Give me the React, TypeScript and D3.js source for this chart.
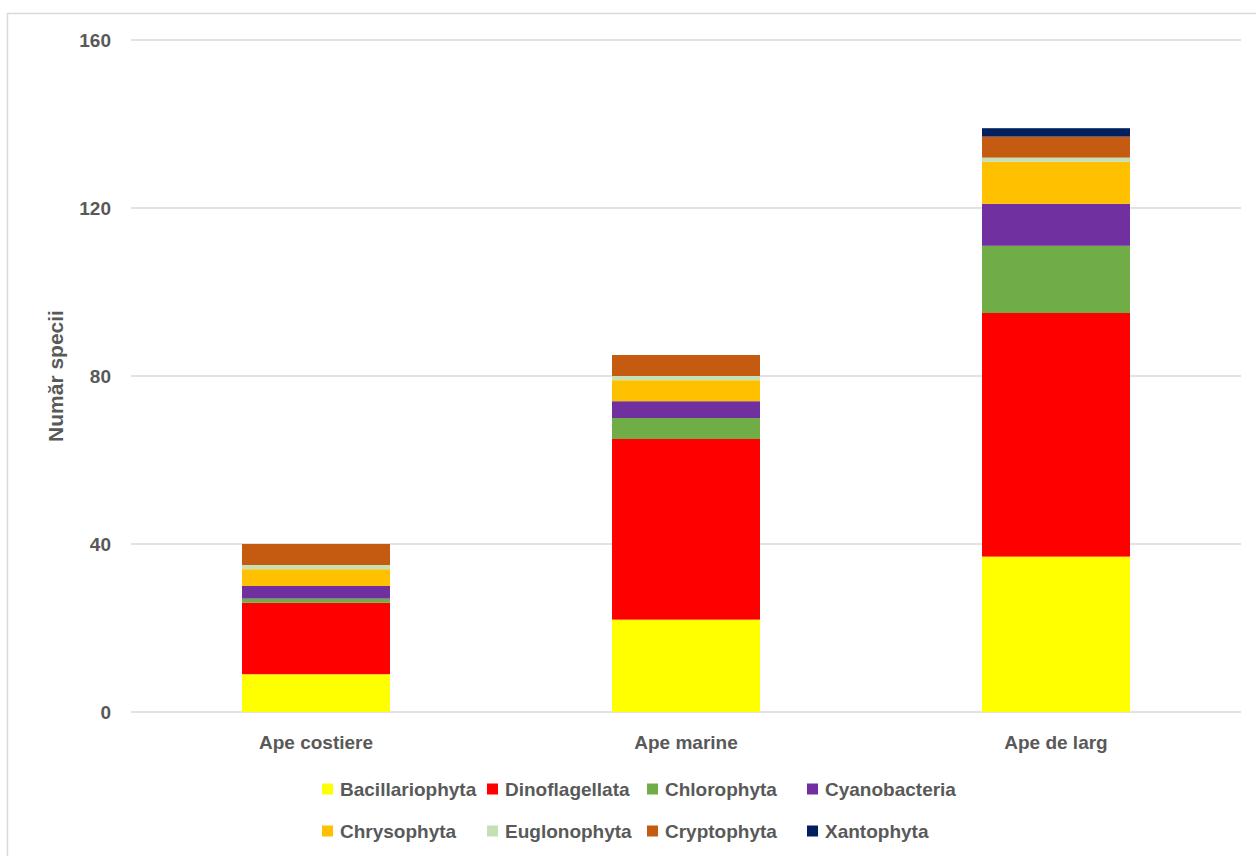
import React from "react";
import * as d3 from "d3";

const categories = ["Ape costiere", "Ape marine", "Ape de larg"];
const seriesNames = [
  "Bacillariophyta",
  "Dinoflagellata",
  "Chlorophyta",
  "Cyanobacteria",
  "Chrysophyta",
  "Euglonophyta",
  "Cryptophyta",
  "Xantophyta",
];
const bacillariophyta = [9, 22, 37];
const dinoflagellata = [17, 43, 58];
const chlorophyta = [1, 5, 16];
const cyanobacteria = [3, 4, 10];
const chrysophyta = [4, 5, 10];
const euglonophyta = [1, 1, 1];
const cryptophyta = [5, 5, 5];
const xantophyta = [0, 0, 2];
const seriesValues = [
  bacillariophyta,
  dinoflagellata,
  chlorophyta,
  cyanobacteria,
  chrysophyta,
  euglonophyta,
  cryptophyta,
  xantophyta,
];
const colors = ["#FFFF00", "#FF0000", "#70AD47", "#7030A0", "#FFC000", "#C5E0B4", "#C55A11", "#002060"];
const yTicks = [0, 40, 80, 120, 160];

const W = 1256;
const H = 856;
const plot = { left: 131, right: 1241, top: 40, bottom: 712 };
const FONT = "'Liberation Sans', Arial, sans-serif";
const TEXT = "#595959";

export default function App() {
  const x = d3
    .scaleBand<string>()
    .domain(categories)
    .range([plot.left, plot.right])
    .paddingInner(0.6)
    .paddingOuter(0.3);
  const y = d3.scaleLinear().domain([0, 160]).range([plot.bottom, plot.top]);

  const rows = categories.map((c, i) => {
    const r: any = { cat: c };
    seriesNames.forEach((s, k) => (r[s] = seriesValues[k][i]));
    return r;
  });
  const stacked = d3.stack<any>().keys(seriesNames)(rows);

  const legendCols = [322, 487, 647, 807];
  const legendRows = [789, 831];

  return (
    <svg
      width={W}
      height={H}
      style={{ position: "absolute", left: 0, top: 0, background: "#fff" }}
      fontFamily={FONT}
    >
      <rect x={7.5} y={13.5} width={W + 10} height={H + 10} fill="#fff" stroke="#D9D9D9" strokeWidth={1.5} />
      {yTicks.map((t) => (
        <g key={t}>
          <line x1={plot.left} x2={plot.right} y1={y(t)} y2={y(t)} stroke="#D9D9D9" strokeWidth={1.5} />
          <text x={111} y={y(t)} dy="0.35em" textAnchor="end" fontSize={19} fontWeight="bold" fill={TEXT}>
            {t}
          </text>
        </g>
      ))}
      {stacked.map((layer, k) =>
        layer.map((d, i) => {
          const h = y(d[0]) - y(d[1]);
          if (h <= 0) return null;
          return (
            <rect
              key={`${k}-${i}`}
              x={x(categories[i])}
              y={y(d[1])}
              width={x.bandwidth()}
              height={h}
              fill={colors[k]}
            />
          );
        })
      )}
      {categories.map((c) => (
        <text
          key={c}
          x={(x(c) as number) + x.bandwidth() / 2}
          y={742}
          dy="0.35em"
          textAnchor="middle"
          fontSize={19}
          fontWeight="bold"
          fill={TEXT}
        >
          {c}
        </text>
      ))}
      <text
        transform={`translate(56,${376}) rotate(-90)`}
        textAnchor="middle"
        dy="0.35em"
        fontSize={21}
        fontWeight="bold"
        fill={TEXT}
      >
        Număr specii
      </text>
      {seriesNames.map((s, k) => {
        const cx = legendCols[k % 4];
        const cy = legendRows[Math.floor(k / 4)];
        return (
          <g key={s}>
            <rect x={cx} y={cy - 5.5} width={11} height={11} fill={colors[k]} />
            <text x={cx + 18} y={cy} dy="0.35em" fontSize={19} fontWeight="bold" fill={TEXT}>
              {s}
            </text>
          </g>
        );
      })}
    </svg>
  );
}
